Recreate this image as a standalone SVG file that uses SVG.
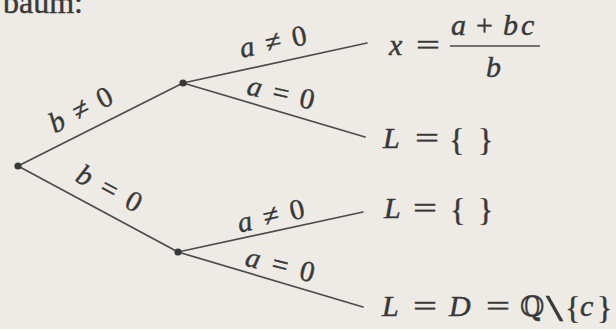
<svg xmlns="http://www.w3.org/2000/svg" width="616" height="329" viewBox="0 0 616 329">
<style>
.bg{fill:#eeebe6}
.t{font-family:"Liberation Serif","Times New Roman",serif;fill:#383838;stroke:#383838;stroke-width:0.45}
.i{font-style:italic}
.lbl{font-family:"Liberation Serif","Times New Roman",serif;font-size:29px;fill:#383838;stroke:#383838;stroke-width:0.4;text-anchor:middle}
.m{font-size:30px}
.edge{stroke:#4c4c4c;stroke-width:1.7;fill:none;stroke-linecap:round}
.dot{fill:#383838}
</style>
<rect class="bg" x="0" y="0" width="616" height="329"/>
<text class="t" x="3" y="13" font-size="32">baum:</text>

<g id="connectors">
  <line class="edge" x1="18" y1="166" x2="183" y2="83"/>
  <line class="edge" x1="18" y1="166" x2="178" y2="252"/>
  <line class="edge" x1="183" y1="83" x2="367" y2="43"/>
  <line class="edge" x1="183" y1="83" x2="365" y2="137"/>
  <line class="edge" x1="178" y1="252" x2="363" y2="212"/>
  <line class="edge" x1="178" y1="252" x2="363" y2="307"/>
  <text class="lbl" transform="translate(85,118) rotate(-27)" textLength="68" lengthAdjust="spacing"><tspan class="i">b</tspan> ≠ 0</text>
  <text class="lbl" transform="translate(105,197) rotate(28)" textLength="70" lengthAdjust="spacing"><tspan class="i">b</tspan> = 0</text>
  <text class="lbl" transform="translate(275,51) rotate(-12)" textLength="68" lengthAdjust="spacing"><tspan class="i">a</tspan> ≠ 0</text>
  <text class="lbl" transform="translate(279,102) rotate(13)" textLength="68" lengthAdjust="spacing"><tspan class="i">a</tspan> = 0</text>
  <text class="lbl" transform="translate(273,225) rotate(-13)" textLength="68" lengthAdjust="spacing"><tspan class="i">a</tspan> ≠ 0</text>
  <text class="lbl" transform="translate(278,274) rotate(14)" textLength="70" lengthAdjust="spacing"><tspan class="i">a</tspan> = 0</text>
</g>

<g id="root"><circle class="dot" cx="18" cy="166" r="3.6"/></g>
<g id="node-b-ne-0"><circle class="dot" cx="183" cy="83" r="3.6"/></g>
<g id="node-b-eq-0"><circle class="dot" cx="178" cy="252" r="3.6"/></g>

<g id="result-x">
  <text class="t i m" x="389" y="55">x</text>
  <text class="t m" x="416" y="55" textLength="24" lengthAdjust="spacingAndGlyphs">=</text>
  <line x1="450" y1="46" x2="540" y2="46" stroke="#4a4a4a" stroke-width="1.5"/>
  <text class="t i m" x="451" y="35">a</text>
  <text class="t m" x="476" y="35">+</text>
  <text class="t i m" x="503" y="35">b</text>
  <text class="t i m" x="521" y="35">c</text>
  <text class="t i m" x="486" y="77">b</text>
</g>

<g id="result-empty-1">
  <text class="t i m" x="383" y="148">L</text>
  <text class="t m" x="415" y="148" textLength="24" lengthAdjust="spacingAndGlyphs">=</text>
  <text class="t" x="449" y="151" font-size="32">{</text>
  <text class="t" x="478" y="151" font-size="32">}</text>
</g>

<g id="result-empty-2">
  <text class="t i m" x="384" y="218">L</text>
  <text class="t m" x="413" y="218" textLength="24" lengthAdjust="spacingAndGlyphs">=</text>
  <text class="t" x="450" y="221" font-size="32">{</text>
  <text class="t" x="478" y="221" font-size="32">}</text>
</g>

<g id="result-all">
  <text class="t i m" x="382" y="316">L</text>
  <text class="t m" x="413" y="316" textLength="24" lengthAdjust="spacingAndGlyphs">=</text>
  <text class="t i m" x="449" y="316">D</text>
  <text class="t m" x="486" y="316" textLength="24" lengthAdjust="spacingAndGlyphs">=</text>
  <text class="t" x="520" y="316" font-size="28" style="font-family:'DejaVu Serif','DejaVu Sans',serif">ℚ</text>
  <text class="t" x="546" y="321" font-size="38" textLength="17" lengthAdjust="spacingAndGlyphs">\</text>
  <text class="t" x="565" y="319" font-size="32">{</text>
  <text class="t i m" x="580" y="316">c</text>
  <text class="t" x="597" y="319" font-size="32">}</text>
</g>
</svg>
